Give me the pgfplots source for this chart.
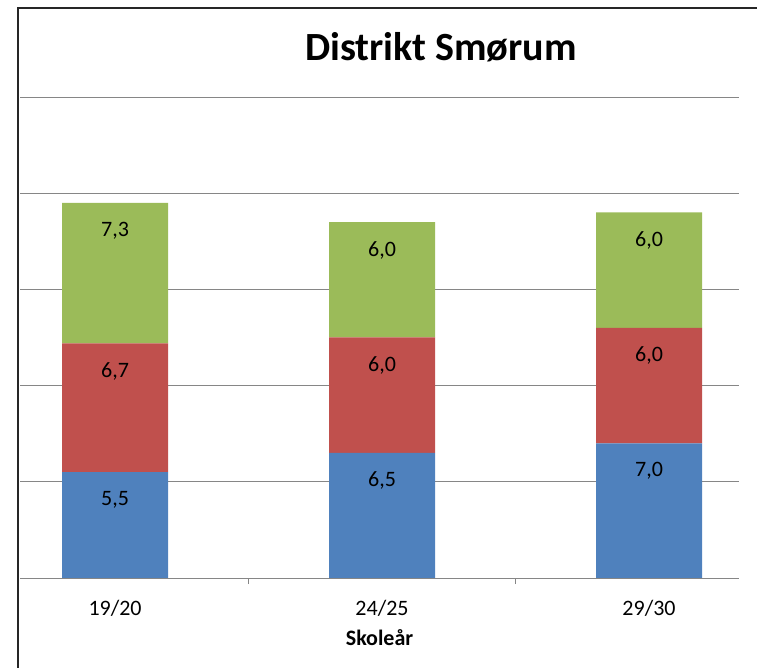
\documentclass[border=0pt]{standalone}
\usepackage{pgfplots}
\pgfplotsset{compat=1.18}
\usepackage{fontspec}
\setmainfont{Carlito}
\definecolor{cblue}{HTML}{4F81BD}
\definecolor{cred}{HTML}{C0504D}
\definecolor{cgreen}{HTML}{9BBB59}
\definecolor{cgrid}{HTML}{868686}
\pgfplotsset{
  commonax/.style={
    at={(20bp,90bp)}, anchor=south west,
    scale only axis, width=719bp, height=481bp,
    xmin=-0.356, xmax=2.337, ymin=0, ymax=25,
  }
}
\begin{document}
\begin{tikzpicture}
\useasboundingbox (0,0) rectangle (757bp,668bp);
\draw[line width=2.5bp, black!85] (18bp,0) -- (18bp,660bp) -- (757bp,660bp);
\node[font=\fontsize{40bp}{44bp}\selectfont\bfseries] at (441bp,621bp) {Distrikt Smørum};
\begin{axis}[
  commonax,
  ybar stacked, bar width=106bp,
  ytick={0,5,10,15,20,25}, yticklabels={},
  ymajorgrids, grid style={cgrid, line width=0.8bp},
  axis lines*=left,
  y axis line style={draw=none},
  ytick style={draw=none},
  x axis line style={cgrid, line width=0.8bp},
  xtick={0,1,2}, xticklabels={19/20,24/25,29/30},
  major x tick style={draw=none},
  minor xtick={0.5,1.5},
  minor x tick style={cgrid, line width=0.8bp},
  minor tick length=6bp, xtick align=outside,
  xticklabel style={font=\fontsize{22bp}{26bp}\selectfont, anchor=center, yshift=-28bp},
  typeset ticklabels with strut,
  xlabel={\bfseries Skoleår},
  xlabel style={font=\fontsize{22bp}{26bp}\selectfont, at={(axis description cs:0.5,0)}, anchor=center, yshift=-60bp},
]
\addplot[fill=cblue, draw=none] coordinates {(0,5.5) (1,6.5) (2,7.0)};
\addplot[fill=cred, draw=none] coordinates {(0,6.7) (1,6.0) (2,6.0)};
\addplot[fill=cgreen, draw=none] coordinates {(0,7.3) (1,6.0) (2,6.0)};
\end{axis}
% data labels: value shown at the top of each stacked segment
\begin{axis}[
  commonax, hide axis,
  point meta=explicit,
  nodes near coords,
  every node near coord/.append style={font=\fontsize{22bp}{26bp}\selectfont, anchor=north, inner sep=0pt, yshift=-19bp, text=black},
  nodes near coords style={/pgf/number format/.cd, fixed, fixed zerofill, precision=1, use comma, assume math mode=true},
]
\addplot[draw=none, mark=none] coordinates {(0,5.5) [5.5] (1,6.5) [6.5] (2,7.0) [7.0]};
\addplot[draw=none, mark=none] coordinates {(0,12.2) [6.7] (1,12.5) [6.0] (2,13.0) [6.0]};
\addplot[draw=none, mark=none] coordinates {(0,19.5) [7.3] (1,18.5) [6.0] (2,19.0) [6.0]};
\end{axis}
\end{tikzpicture}
\end{document}
